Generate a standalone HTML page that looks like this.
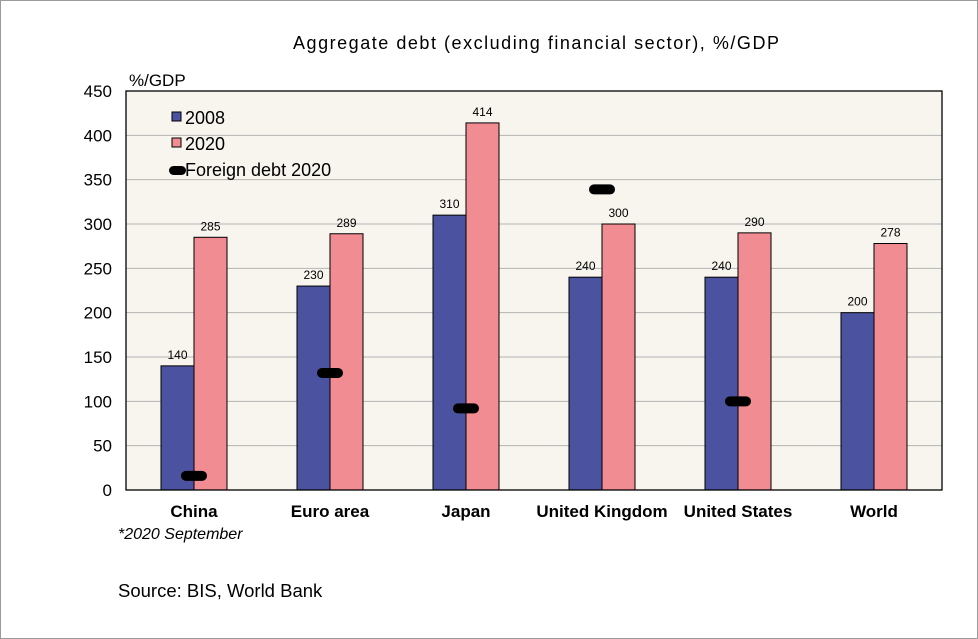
<!DOCTYPE html>
<html><head><meta charset="utf-8"><style>
body{margin:0;background:#fff}
svg{display:block;font-family:"Liberation Sans",sans-serif}
</style></head><body>
<svg width="978" height="639" viewBox="0 0 978 639">
<rect x="0.5" y="0.5" width="977" height="638" fill="#fff" stroke="#9a9a9a"/>
<text x="293" y="49" font-size="18" textLength="486" lengthAdjust="spacing">Aggregate debt (excluding financial sector), %/GDP</text>
<text x="129" y="86" font-size="17">%/GDP</text>
<g id="plot"></g>
<text x="118" y="539" font-size="16" font-style="italic">*2020 September</text>
<text x="118" y="597" font-size="18.5">Source: BIS, World Bank</text>
</svg>
<script>
const categories=["China","Euro area","Japan","United Kingdom","United States","World"];
const values2008=[140,230,310,240,240,200];
const values2020=[285,289,414,300,290,278];
const foreign2020=[16,132,92,339,100,null];
const yTicks=[0,50,100,150,200,250,300,350,400,450];
const NS="http://www.w3.org/2000/svg";
const L=126,R=942,T=91,B=490,yMax=450;
const y=v=>B-(v/yMax)*(B-T);
const gw=(R-L)/categories.length;
const cx=i=>L+gw*(i+0.5);
const g=document.getElementById('plot');
function mk(t,a){const e=document.createElementNS(NS,t);for(const k in a)e.setAttribute(k,a[k]);g.appendChild(e);return e;}
let e=mk('rect',{x:L,y:T,width:R-L,height:B-T,fill:'#f8f4ee'});


yTicks.forEach(v=>{
 if(v>0&&v<yMax){const l=mk('line',{x1:L,x2:R,y1:y(v),y2:y(v),stroke:'#b5b5b5','stroke-width':1});
 
 }
 const t=mk('text',{x:L-14,y:y(v)+6,'font-size':17,'text-anchor':'end'});t.textContent=v;
 
 
});
const bw=33;
categories.forEach((c,i)=>{
 const x0=cx(i);
 const b1=mk('rect',{x:x0-bw,y:y(values2008[i]),width:bw,height:B-y(values2008[i]),fill:'#4b53a0',stroke:'#000','stroke-width':1});
 
 
 const b2=mk('rect',{x:x0,y:y(values2020[i]),width:bw,height:B-y(values2020[i]),fill:'#f08c92',stroke:'#000','stroke-width':1});
 
 
 const t1=mk('text',{x:x0-bw/2,y:y(values2008[i])-7,'font-size':12,'text-anchor':'middle'});t1.textContent=values2008[i];
 
 
 const t2=mk('text',{x:x0+bw/2,y:y(values2020[i])-7,'font-size':12,'text-anchor':'middle'});t2.textContent=values2020[i];
 
 
 if(foreign2020[i]!=null){const m=mk('rect',{x:x0-13,y:y(foreign2020[i])-5,width:26,height:10,rx:5,fill:'#000'});
 
 }
 const ct=mk('text',{x:x0,y:517,'font-size':17,'font-weight':'bold','text-anchor':'middle'});ct.textContent=c;
 
 
});
e=mk('rect',{x:L,y:T,width:R-L,height:B-T,fill:'none',stroke:'#000','stroke-width':1.3});


const leg=[['#4b53a0','2008',124],['#f08c92','2020',150]];
leg.forEach(d=>{
 const s=mk('rect',{x:172,y:d[2]-12,width:9,height:9,fill:d[0],stroke:'#000','stroke-width':1});
 
 
 const t=mk('text',{x:185,y:d[2],'font-size':18});t.textContent=d[1];
 
 
});
e=mk('rect',{x:169,y:166,width:17,height:9,rx:4.5,fill:'#000'});


e=mk('text',{x:185,y:176,'font-size':18});e.textContent='Foreign debt 2020';


</script>
</body></html>
